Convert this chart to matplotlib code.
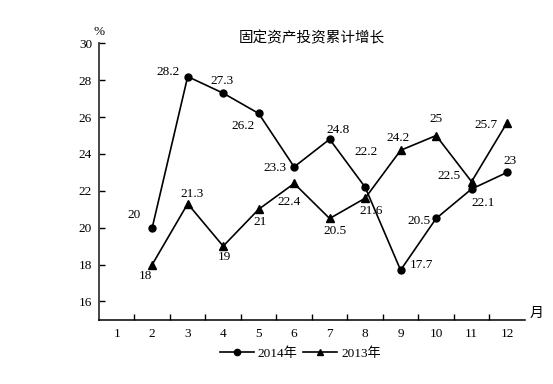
import matplotlib
matplotlib.use("Agg")
import matplotlib.pyplot as plt
from matplotlib.lines import Line2D

plt.rcParams['font.family'] = ['Liberation Serif', 'Noto Sans CJK SC', 'DejaVu Sans']

title = "固定资产投资累计增长"
months = [2, 3, 4, 5, 6, 7, 8, 9, 10, 11, 12]
s2014 = [20, 28.2, 27.3, 26.2, 23.3, 24.8, 22.2, 17.7, 20.5, 22.1, 23]
s2013 = [18, 21.3, 19, 21, 22.4, 20.5, 21.6, 24.2, 25, 22.5, 25.7]
xticklabels = [str(m) for m in range(1, 13)]
yticks = [16, 18, 20, 22, 24, 26, 28, 30]
labels = ["2014年", "2013年"]

# label offsets (points) for data labels
off2014 = [(-13, 9), (-14, 3), (-1, 9), (-11, -9), (-14, -1), (6, 7), (1, 25), (15, 4), (-12, -2), (8, -10), (2, 8)]
off2013 = [(-5, -8), (3, 7), (1, -8), (1, -9), (-4, -13), (4, -9), (4, -9), (-2, 9), (0, 12), (-16, 4), (-15, -2)]

fig = plt.figure(figsize=(5.53, 3.84), dpi=100)
ax = fig.add_axes([0.179, 0.167, 0.770, 0.720])

fs = 9.5
lw = 1.2
ax.plot(months, s2014, color='black', lw=lw, marker='o', ms=5, label=labels[0])
ax.plot(months, s2013, color='black', lw=lw, marker='^', ms=5.5, label=labels[1])

for x, y, (dx, dy) in zip(months, s2014, off2014):
    ax.annotate(f"{y:g}", (x, y), xytext=(dx, dy), textcoords='offset points',
                ha='center', va='center', fontsize=fs)
for x, y, (dx, dy) in zip(months, s2013, off2013):
    ax.annotate(f"{y:g}", (x, y), xytext=(dx, dy), textcoords='offset points',
                ha='center', va='center', fontsize=fs)

ax.set_xlim(0.5, 12.5)
ax.set_ylim(15, 30)
ax.set_xticks(range(1, 13))
ax.set_xticklabels(xticklabels, fontsize=fs)
ax.set_xticks([i + 0.5 for i in range(1, 12)], minor=True)
ax.tick_params(axis='x', which='major', length=0, pad=6)
ax.tick_params(axis='x', which='minor', direction='in', length=4, width=1.0)
ax.set_yticks(yticks)
ax.set_yticklabels([str(v) for v in yticks], fontsize=fs)
ax.tick_params(axis='y', direction='in', length=4, width=1.0, pad=5)

for s in ['top', 'right']:
    ax.spines[s].set_visible(False)
ax.spines['left'].set_linewidth(1.4)
ax.spines['left'].set_color('#444444')
ax.spines['bottom'].set_linewidth(1.1)

ax.text(0.5, 1.02, title, transform=ax.transAxes, ha='center', va='center', fontsize=10.5)
ax.text(0.0, 1.04, "%", transform=ax.transAxes, ha='center', va='center', fontsize=fs)
ax.text(1.012, 0.025, "月", transform=ax.transAxes, ha='left', va='center', fontsize=10)

handles = [Line2D([], [], color='black', lw=lw, marker='o', ms=4.5),
           Line2D([], [], color='black', lw=lw, marker='^', ms=5)]
fig.legend(handles, labels, loc='center', bbox_to_anchor=(0.543, 0.079), ncol=2,
           frameon=False, fontsize=fs, handlelength=2.6, handletextpad=0.3,
           columnspacing=0.4)

fig.savefig("out.png", dpi=100)
